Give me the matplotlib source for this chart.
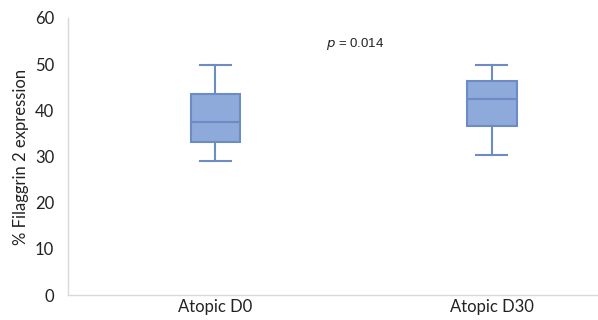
import matplotlib
matplotlib.use("Agg")
import matplotlib.pyplot as plt

categories = ["Atopic D0", "Atopic D30"]
whisker_low = [29.0, 30.4]
q1 = [33.1, 36.6]
median = [37.4, 42.4]
q3 = [43.6, 46.3]
whisker_high = [49.8, 49.9]
y_ticks = [0, 10, 20, 30, 40, 50, 60]
p_text = "0.014"

plt.rcParams['font.family'] = ['Lato', 'DejaVu Sans']

fig = plt.figure(figsize=(5.98, 3.2), dpi=100)
ax = fig.add_axes([0.1137, 0.078, 0.884, 0.866])

stats = []
for i, c in enumerate(categories):
    stats.append(dict(label=c, whislo=whisker_low[i], q1=q1[i], med=median[i],
                      q3=q3[i], whishi=whisker_high[i], fliers=[]))

edge = "#6e8cc4"
ax.bxp(stats, positions=[1, 2], widths=0.18, patch_artist=True, showfliers=False,
       boxprops=dict(facecolor="#8eaadb", edgecolor=edge, linewidth=1.5),
       medianprops=dict(color=edge, linewidth=1.5),
       whiskerprops=dict(color=edge, linewidth=1.5),
       capprops=dict(color=edge, linewidth=1.5),
       capwidths=0.11)

ax.set_xlim(0.466, 2.38)
ax.set_ylim(0, 60)
ax.set_yticks(y_ticks)
ax.set_xticks([1, 2])
ax.set_xticklabels(categories)
ax.tick_params(length=0, labelsize=12, colors="#222222")
ax.tick_params(axis='x', pad=3)
ax.tick_params(axis='y', pad=10)
for s in ["top", "right"]:
    ax.spines[s].set_visible(False)
for s in ["left", "bottom"]:
    ax.spines[s].set_color("#d9d9d9")
    ax.spines[s].set_linewidth(1)
ax.set_ylabel("% Filaggrin 2 expression", fontsize=12, color="#222222", labelpad=4)
ax.text(1.505, 54.3, r"$p$ = " + p_text, fontsize=9.5, ha="center", va="center",
        color="#222222", family="Liberation Sans")

fig.savefig("out.png", dpi=100)
